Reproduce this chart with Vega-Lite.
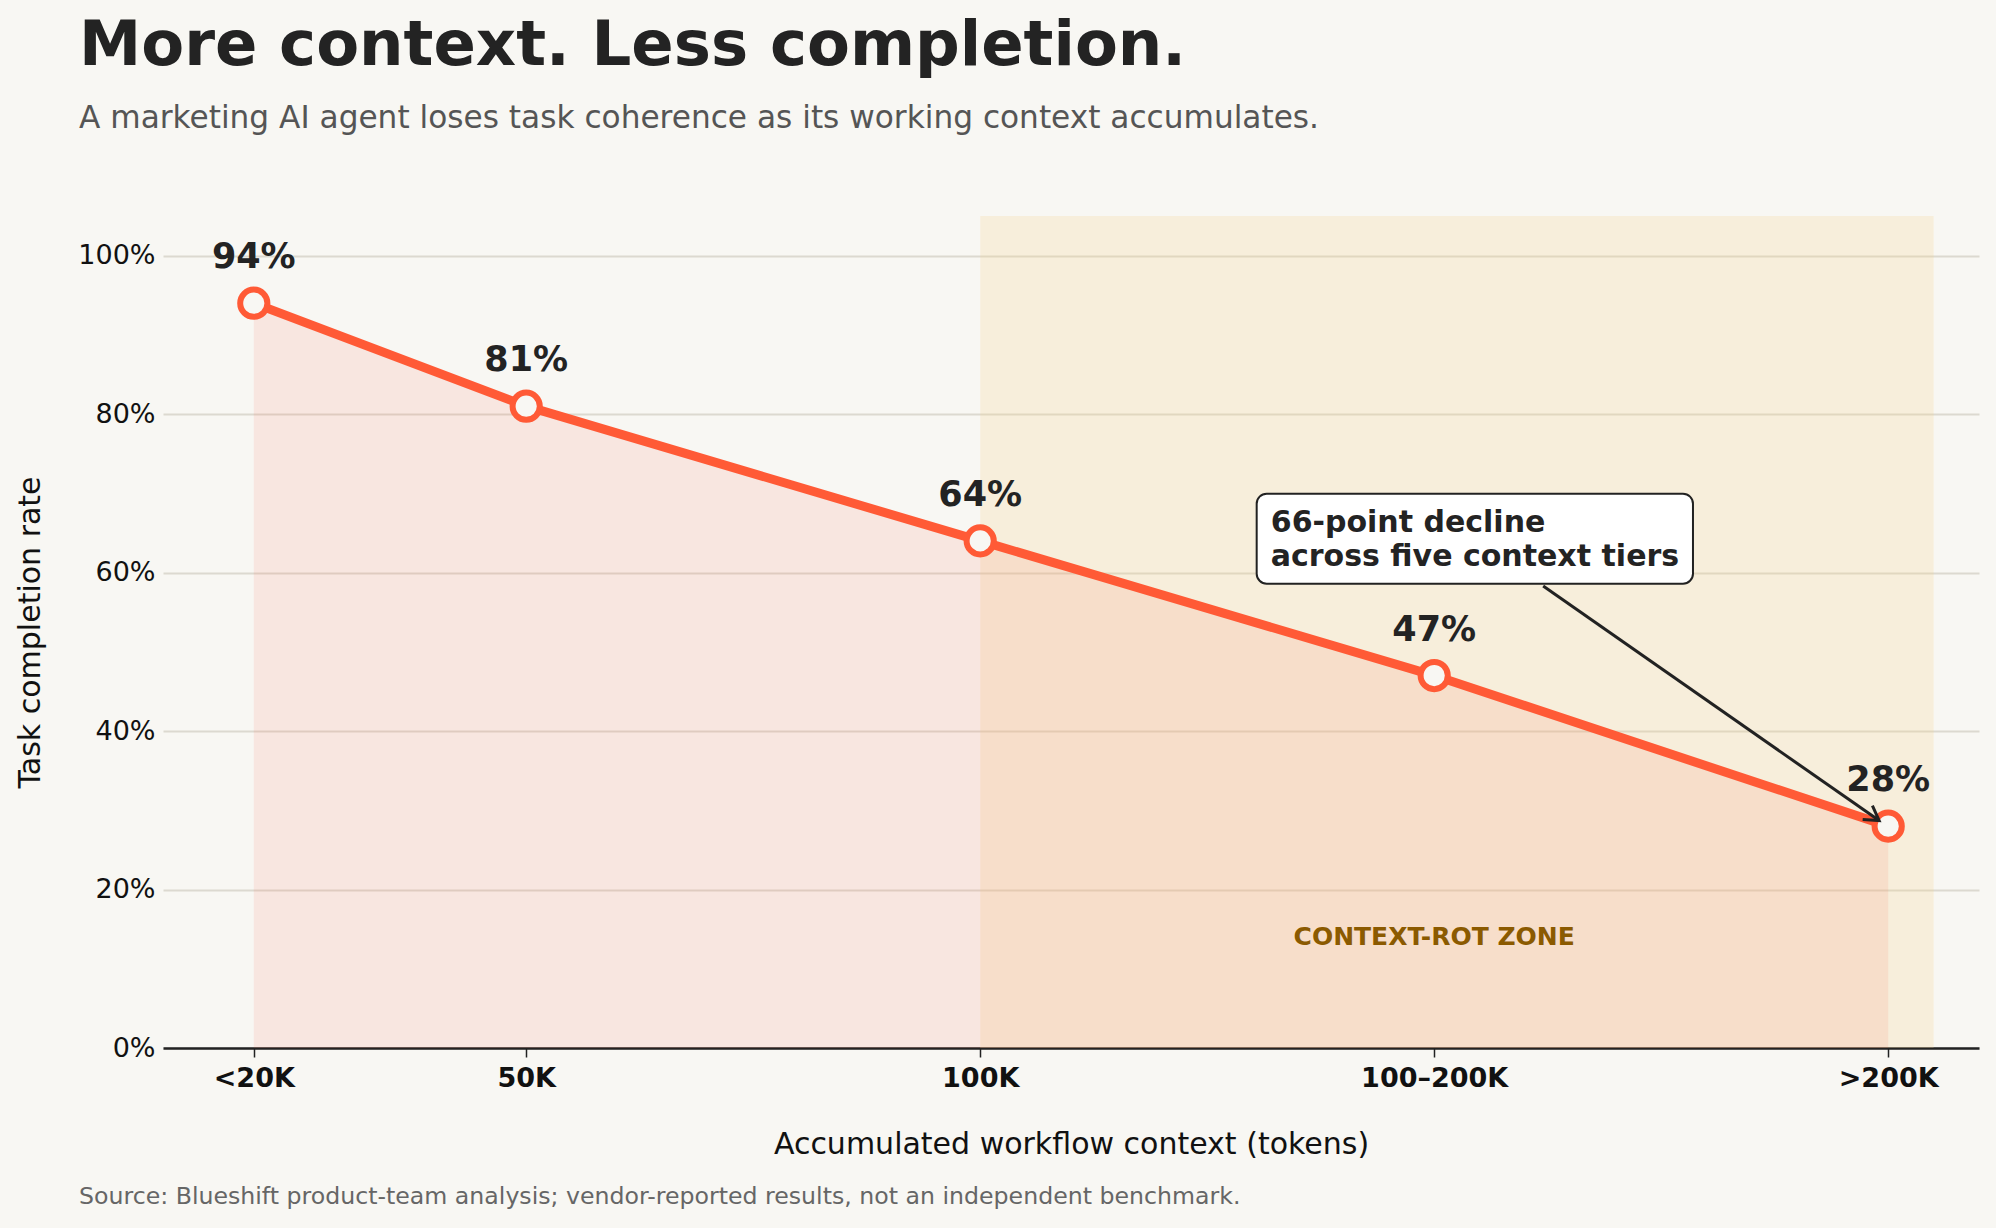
{
  "$schema": "https://vega.github.io/schema/vega-lite/v6.json",
  "description": "Task completion rate by accumulated workflow context",
  "width": 1816,
  "height": 832,
  "autosize": {"type": "none"},
  "padding": {"left": 163, "top": 216, "right": 17, "bottom": 180},
  "background": "#F8F7F3",
  "title": {
    "text": "More context. Less completion.",
    "subtitle": "A marketing AI agent loses task coherence as its working context accumulates.",
    "anchor": "start",
    "frame": "group",
    "dx": -84,
    "offset": 81,
    "font": "DejaVu Sans",
    "fontSize": 62.5,
    "fontWeight": "bold",
    "color": "#232323",
    "subtitleFont": "DejaVu Sans",
    "subtitleFontSize": 31.2,
    "subtitleColor": "#555555",
    "subtitlePadding": 24
  },
  "config": {
    "view": {"stroke": null},
    "font": "DejaVu Sans",
    "axisY": {
      "domain": false,
      "ticks": false,
      "grid": true,
      "gridColor": "#DCD9D0",
      "gridWidth": 2,
      "labelFontSize": 27,
      "labelColor": "#111111",
      "labelPadding": 8,
      "titleFontSize": 30,
      "titleFontWeight": "normal",
      "titleColor": "#111111",
      "titlePadding": 32
    },
    "axisX": {
      "grid": false,
      "domainColor": "#222222",
      "domainWidth": 2.5,
      "tickColor": "#222222",
      "tickWidth": 1.5,
      "tickSize": 9,
      "labelFontSize": 27,
      "labelFontWeight": "bold",
      "labelColor": "#111111",
      "labelPadding": 8,
      "titleFontSize": 30,
      "titleFontWeight": "normal",
      "titleColor": "#111111",
      "titlePadding": 38
    }
  },
  "data": {
    "values": [
      {"tier": "<20K", "tokens": 20, "rate": 0.94},
      {"tier": "50K", "tokens": 50, "rate": 0.81},
      {"tier": "100K", "tokens": 100, "rate": 0.64},
      {"tier": "100–200K", "tokens": 150, "rate": 0.47},
      {"tier": ">200K", "tokens": 200, "rate": 0.28}
    ]
  },
  "layer": [
    {
      "data": {"values": [{"zone": "CONTEXT-ROT ZONE"}]},
      "mark": {"type": "rect", "color": "#F5D38A", "opacity": 0.22},
      "encoding": {
        "x": {
          "datum": 100,
          "type": "quantitative",
          "scale": {"domain": [10, 210], "nice": false, "zero": false},
          "title": "Accumulated workflow context (tokens)",
          "axis": {
            "values": [20, 50, 100, 150, 200],
            "labelExpr": "datum.value == 20 ? '<20K' : datum.value == 50 ? '50K' : datum.value == 100 ? '100K' : datum.value == 150 ? '100–200K' : '>200K'"
          }
        },
        "x2": {"datum": 205},
        "y": {
          "datum": 0,
          "type": "quantitative",
          "scale": {"domain": [0, 1.05], "nice": false},
          "title": "Task completion rate",
          "axis": {"values": [0, 0.2, 0.4, 0.6, 0.8, 1.0], "format": ".0%"}
        },
        "y2": {"datum": 1.05}
      }
    },
    {
      "mark": {"type": "area", "color": "#FF5A36", "opacity": 0.1},
      "encoding": {
        "x": {"field": "tokens", "type": "quantitative", "title": "Accumulated workflow context (tokens)"},
        "y": {"field": "rate", "type": "quantitative", "title": "Task completion rate"}
      }
    },
    {
      "mark": {"type": "line", "color": "#FF5A36", "strokeWidth": 9},
      "encoding": {
        "x": {"field": "tokens", "type": "quantitative", "title": "Accumulated workflow context (tokens)"},
        "y": {"field": "rate", "type": "quantitative", "title": "Task completion rate"}
      }
    },
    {
      "mark": {
        "type": "point",
        "filled": true,
        "fill": "#F8F7F3",
        "stroke": "#FF5A36",
        "strokeWidth": 6,
        "size": 740,
        "opacity": 1
      },
      "encoding": {
        "x": {"field": "tokens", "type": "quantitative", "title": "Accumulated workflow context (tokens)"},
        "y": {"field": "rate", "type": "quantitative", "title": "Task completion rate"}
      }
    },
    {
      "mark": {
        "type": "text",
        "fontSize": 35,
        "fontWeight": "bold",
        "color": "#232323",
        "baseline": "middle",
        "dy": -46
      },
      "encoding": {
        "x": {"field": "tokens", "type": "quantitative", "title": "Accumulated workflow context (tokens)"},
        "y": {"field": "rate", "type": "quantitative", "title": "Task completion rate"},
        "text": {"field": "rate", "type": "quantitative", "format": ".0%"}
      }
    },
    {
      "data": {"values": [{"zone": "CONTEXT-ROT ZONE"}]},
      "mark": {
        "type": "text",
        "fontSize": 25,
        "fontWeight": "bold",
        "color": "#8B5A00",
        "baseline": "middle"
      },
      "encoding": {
        "x": {"datum": 150},
        "y": {"datum": 0.14},
        "text": {"field": "zone"}
      }
    },
    {
      "data": {"values": [{"note": "66-point decline"}]},
      "mark": {"type": "rule", "color": "#222222", "strokeWidth": 3},
      "encoding": {
        "x": {"datum": 162},
        "y": {"datum": 0.583},
        "x2": {"datum": 199},
        "y2": {"datum": 0.287}
      }
    },
    {
      "data": {"values": [{"note": "66-point decline"}]},
      "mark": {
        "type": "point",
        "shape": "M -0.6 1 L 0 0 L 0.6 1",
        "filled": false,
        "color": "#222222",
        "strokeWidth": 3,
        "size": 800,
        "angle": 125,
        "opacity": 1
      },
      "encoding": {
        "x": {"datum": 199},
        "y": {"datum": 0.287}
      }
    },
    {
      "data": {"values": [{"note": "66-point decline"}]},
      "mark": {
        "type": "rect",
        "fill": "#FFFFFF",
        "stroke": "#222222",
        "strokeWidth": 2,
        "cornerRadius": 10
      },
      "encoding": {
        "x": {"datum": 130.45},
        "x2": {"datum": 178.5},
        "y": {"datum": 0.5859},
        "y2": {"datum": 0.6995}
      }
    },
    {
      "data": {"values": [{"note": "66-point decline"}]},
      "mark": {
        "type": "text",
        "text": ["66-point decline", "across five context tiers"],
        "fontSize": 30,
        "fontWeight": "bold",
        "color": "#232323",
        "align": "left",
        "baseline": "middle",
        "lineHeight": 34
      },
      "encoding": {
        "x": {"datum": 132},
        "y": {"datum": 0.663}
      }
    },
    {
      "data": {"values": [{"source": "Source: Blueshift product-team analysis; vendor-reported results, not an independent benchmark."}]},
      "mark": {
        "type": "text",
        "fontSize": 23.65,
        "color": "#666666",
        "align": "left",
        "baseline": "middle"
      },
      "encoding": {
        "x": {"datum": 0.75},
        "y": {"datum": -0.188},
        "text": {"field": "source"}
      }
    }
  ]
}
